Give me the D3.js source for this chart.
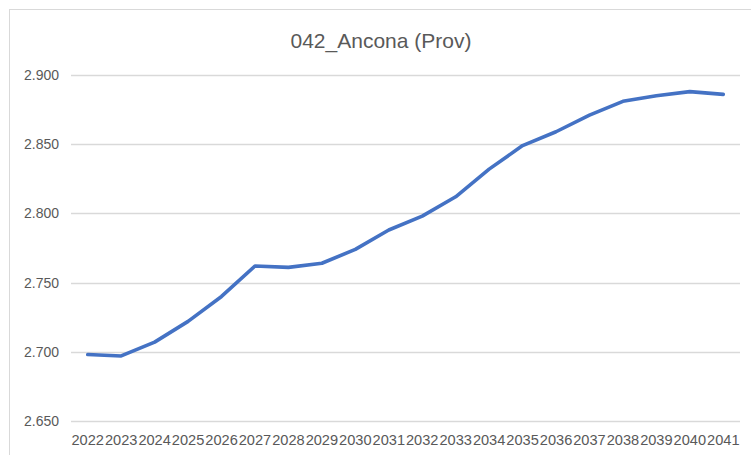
<!DOCTYPE html>
<html>
<head>
<meta charset="utf-8">
<script src="https://cdn.jsdelivr.net/npm/d3@7"></script>
<style>
  html, body { margin: 0; padding: 0; background: #fff; }
  svg { display: block; }
</style>
</head>
<body>
<svg id="chart" width="751" height="455"></svg>
<script>
const title = "042_Ancona (Prov)";
const years = ["2022","2023","2024","2025","2026","2027","2028","2029","2030","2031",
               "2032","2033","2034","2035","2036","2037","2038","2039","2040","2041"];
const values = [2.698, 2.697, 2.707, 2.722, 2.740, 2.762, 2.761, 2.764, 2.774, 2.788,
                2.798, 2.812, 2.832, 2.849, 2.859, 2.871, 2.881, 2.885, 2.888, 2.886];
const yTicks = [2.650, 2.700, 2.750, 2.800, 2.850, 2.900];

const svg = d3.select("#chart");
const font = "'Liberation Sans', Arial, sans-serif";

// chart border
svg.append("rect")
  .attr("x", 9.5).attr("y", 9.5)
  .attr("width", 760).attr("height", 460)
  .attr("fill", "#fff").attr("stroke", "#d9d9d9").attr("stroke-width", 1);

const plot = { left: 71, right: 740, top: 75, bottom: 421 };

const x = d3.scaleBand().domain(years).range([plot.left, plot.right]).padding(0);
const y = d3.scaleLinear().domain([2.650, 2.900]).range([plot.bottom, plot.top]);

const fmt = v => d3.format(".3f")(v);

// gridlines
svg.append("g")
  .selectAll("line").data(yTicks).join("line")
  .attr("x1", plot.left).attr("x2", plot.right)
  .attr("y1", d => Math.round(y(d)) + 0.5).attr("y2", d => Math.round(y(d)) + 0.5)
  .attr("stroke", "#d9d9d9").attr("stroke-width", 1.3);

// y axis labels
svg.append("g")
  .selectAll("text").data(yTicks).join("text")
  .attr("x", 59).attr("y", d => y(d))
  .attr("dy", "0.35em")
  .attr("text-anchor", "end")
  .attr("font-family", font).attr("font-size", 14)
  .attr("fill", "#595959")
  .text(d => fmt(d));

// x axis labels
svg.append("g")
  .selectAll("text").data(years).join("text")
  .attr("x", d => x(d) + x.bandwidth() / 2)
  .attr("y", 445)
  .attr("text-anchor", "middle")
  .attr("font-family", font).attr("font-size", 14)
  .attr("textLength", 32.5).attr("lengthAdjust", "spacingAndGlyphs")
  .attr("fill", "#595959")
  .text(d => d);

// line
const line = d3.line()
  .x((d, i) => x(years[i]) + x.bandwidth() / 2)
  .y(d => y(d));

svg.append("path")
  .datum(values)
  .attr("d", line)
  .attr("fill", "none")
  .attr("stroke", "#4472C4")
  .attr("stroke-width", 3.6)
  .attr("stroke-linejoin", "round")
  .attr("stroke-linecap", "round");

// title
svg.append("text")
  .attr("x", 381).attr("y", 48)
  .attr("text-anchor", "middle")
  .attr("font-family", font).attr("font-size", 21)
  .attr("fill", "#595959")
  .text(title);
</script>
</body>
</html>
